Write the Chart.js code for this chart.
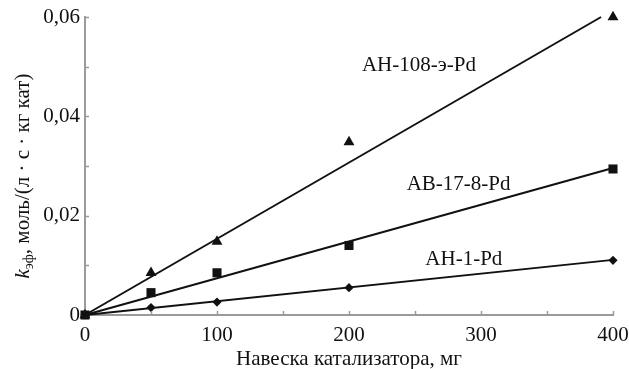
<!DOCTYPE html>
<html>
<head>
<meta charset="utf-8">
<script src="https://cdn.jsdelivr.net/npm/chart.js@4/dist/chart.umd.min.js"></script>
<style>
  html, body { margin: 0; padding: 0; background: #fff; }
  #wrap { width: 629px; height: 369px; position: relative; }
</style>
</head>
<body>
<div id="wrap"><canvas id="chart"></canvas></div>
<script>
// ── Data ────────────────────────────────────────────
const catalystMass = [0, 50, 100, 200, 400];          // мг
const kAH108 = [0, 0.0085, 0.0148, 0.0348, 0.0600];  // АН-108-э-Pd
const kAB17  = [0, 0.0045, 0.0085, 0.0140, 0.0294];  // АВ-17-8-Pd
const kAH1   = [0, 0.0015, 0.0026, 0.0055, 0.0110];  // АН-1-Pd

// linear fits through the origin: [start, end]
const fitX108 = [0, 391];
const fitY108 = [0, 0.0600];
const fitXAB  = [0, 400];
const fitYAB  = [0, 0.0296];
const fitXAH1 = [0, 400];
const fitYAH1 = [0, 0.0111];

const seriesNames = ['АН-108-э-Pd', 'АВ-17-8-Pd', 'АН-1-Pd'];
const xTickLabels = [0, 100, 200, 300, 400];
const yTickLabels = [0, 0.02, 0.04, 0.06];

const FONT = '"Liberation Serif", "DejaVu Serif", serif';
const FS   = 21;
const INK  = '#111';

const toPts = (xs, ys) => xs.map((x, i) => ({ x, y: ys[i] }));

function markerSet(ys, style, radius) {
    return {
        type: 'scatter',
        data: toPts(catalystMass, ys),
        pointStyle: style,
        pointRadius: radius,
        pointHoverRadius: radius,
        backgroundColor: INK,
        borderColor: INK,
        borderWidth: 0,
        clip: false
    };
}

function fitSet(xs, ys) {
    return {
        type: 'line',
        data: toPts(xs, ys),
        showLine: true,
        borderColor: INK,
        borderWidth: 2,
        pointRadius: 0,
        fill: false,
        clip: false
    };
}

// ── Inward ticks, series labels, y title ────────────
const decorPlugin = {
    id: 'decor',
    afterDraw(chart) {
        const { ctx, chartArea: a, scales: { x, y } } = chart;
        ctx.save();

        // small ticks pointing into the plot
        ctx.strokeStyle = '#9a9a9a';
        ctx.lineWidth = 1.5;
        for (let v = 50; v <= 400; v += 50) {
            const px = Math.round(x.getPixelForValue(v)) + 0.5;
            ctx.beginPath();
            ctx.moveTo(px, a.bottom);
            ctx.lineTo(px, a.bottom - 4);
            ctx.stroke();
        }
        for (let i = 1; i <= 6; i++) {
            const py = Math.round(y.getPixelForValue(i * 0.01)) + 0.5;
            ctx.beginPath();
            ctx.moveTo(a.left, py);
            ctx.lineTo(a.left + 4, py);
            ctx.stroke();
        }

        // series labels
        ctx.fillStyle = INK;
        ctx.font = `${FS}px ${FONT}`;
        ctx.textAlign = 'center';
        ctx.textBaseline = 'middle';
        const anchors = [[253, 0.0502], [283, 0.0262], [287, 0.0111]];
        seriesNames.forEach((name, i) => {
            ctx.fillText(name, x.getPixelForValue(anchors[i][0]), y.getPixelForValue(anchors[i][1]));
        });

        // y axis title: k_эф, моль/(л · с · кг кат)
        const main = ', моль/(л · с · кг кат)';
        ctx.translate(22, 176);
        ctx.rotate(-Math.PI / 2);
        ctx.textAlign = 'left';
        ctx.textBaseline = 'alphabetic';
        ctx.font = `italic ${FS}px ${FONT}`;
        const wK = ctx.measureText('k').width;
        ctx.font = `14px ${FONT}`;
        const wSub = ctx.measureText('эф').width;
        ctx.font = `${FS}px ${FONT}`;
        const wMain = ctx.measureText(main).width;
        let cx = -(wK + wSub + wMain) / 2;
        const base = 7;
        ctx.font = `italic ${FS}px ${FONT}`;
        ctx.fillText('k', cx, base);
        cx += wK;
        ctx.font = `14px ${FONT}`;
        ctx.fillText('эф', cx, base + 4);
        cx += wSub;
        ctx.font = `${FS}px ${FONT}`;
        ctx.fillText(main, cx, base);

        ctx.restore();
    }
};

new Chart(document.getElementById('chart'), {
    data: {
        datasets: [
            fitSet(fitX108, fitY108),
            fitSet(fitXAB, fitYAB),
            fitSet(fitXAH1, fitYAH1),
            markerSet(kAH108, 'triangle', 6.3),
            markerSet(kAB17, 'rect', 6.4),
            markerSet(kAH1, 'rectRot', 4.6)
        ]
    },
    options: {
        responsive: true,
        maintainAspectRatio: false,
        animation: false,
        events: [],
        layout: { padding: { top: 17, right: 16, left: 0, bottom: 0 } },
        plugins: {
            legend: { display: false },
            tooltip: { enabled: false }
        },
        scales: {
            x: {
                type: 'linear',
                min: 0,
                max: 400,
                afterFit: s => {
                    s.height = 54;
                    s.paddingLeft = 0;
                    s.paddingRight = 0;
                },
                afterBuildTicks: s => { s.ticks = xTickLabels.map(v => ({ value: v })); },
                grid: { display: false, drawTicks: false },
                border: { display: true, color: '#9a9a9a', width: 2 },
                ticks: {
                    color: INK,
                    padding: 8,
                    maxRotation: 0,
                    font: { family: FONT, size: FS }
                },
                title: {
                    display: true,
                    text: 'Навеска катализатора, мг',
                    color: INK,
                    padding: { top: 0, bottom: -3 },
                    font: { family: FONT, size: FS }
                }
            },
            y: {
                type: 'linear',
                min: 0,
                max: 0.06,
                afterFit: s => {
                    s.width = 85;
                    s.paddingTop = 0;
                    s.paddingBottom = 0;
                },
                afterBuildTicks: s => { s.ticks = yTickLabels.map(v => ({ value: v })); },
                grid: { display: false, drawTicks: false },
                border: { display: true, color: '#9a9a9a', width: 2 },
                ticks: {
                    color: INK,
                    padding: 5,
                    font: { family: FONT, size: FS },
                    callback: v => v === 0 ? '0' : v.toFixed(2).replace('.', ',')
                }
            }
        }
    },
    plugins: [decorPlugin]
});
</script>
</body>
</html>
